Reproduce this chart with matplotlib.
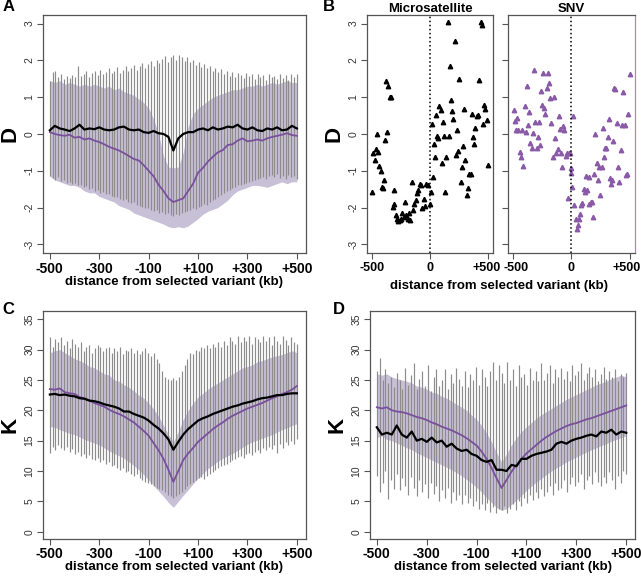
import numpy as np
import matplotlib
matplotlib.use("Agg")
import matplotlib.pyplot as plt
from matplotlib.transforms import ScaledTranslation

plt.rcParams['font.family'] = ['Liberation Sans', 'DejaVu Sans']

# ---- data -------------------------------------------------------------
kb = np.arange(-500, 501, 20)          # 51 positions for lines/bands
kb_bar = np.linspace(-500, 500, 89)    # positions of grey range bars

# panel A (D statistic)
a_black = [0.10, 0.22, 0.15, 0.12, 0.08, 0.15, 0.25, 0.12, 0.15, 0.13,
           0.18, 0.12, 0.10, 0.12, 0.18, 0.20, 0.12, 0.10, 0.12, 0.05,
           0.03, 0.08, 0.02, 0.00, -0.08, -0.45, -0.12, 0.00, 0.05, 0.05,
           0.12, 0.15, 0.10, 0.18, 0.12, 0.15, 0.20, 0.18, 0.25, 0.15,
           0.12, 0.18, 0.10, 0.08, 0.15, 0.12, 0.18, 0.10, 0.12, 0.22, 0.15]
a_purple = [0.05, 0.00, -0.03, -0.05, -0.02, -0.10, -0.08, -0.15, -0.12, -0.18,
            -0.22, -0.28, -0.35, -0.40, -0.45, -0.52, -0.60, -0.68, -0.72, -0.85,
            -1.00, -1.15, -1.38, -1.55, -1.75, -1.85, -1.80, -1.75, -1.55, -1.35,
            -1.05, -0.92, -0.75, -0.62, -0.50, -0.44, -0.30, -0.28, -0.18, -0.12,
            -0.20, -0.18, -0.15, -0.18, -0.12, -0.08, -0.05, -0.02, 0.02, -0.03, -0.05]
a_band_hi = [1.45, 1.40, 1.45, 1.35, 1.40, 1.35, 1.30, 1.35, 1.30, 1.35,
             1.30, 1.25, 1.30, 1.20, 1.25, 1.15, 1.10, 1.05, 0.95, 0.85,
             0.70, 0.40, 0.00, -0.60, -0.90, -0.92, -0.90, -0.50, 0.20, 0.55,
             0.70, 0.80, 0.90, 1.00, 1.05, 1.10, 1.15, 1.20, 1.20, 1.25,
             1.30, 1.30, 1.35, 1.30, 1.35, 1.40, 1.35, 1.40, 1.45, 1.40, 1.40]
a_band_lo = [-1.15, -1.25, -1.30, -1.35, -1.40, -1.40, -1.45, -1.55, -1.60, -1.60,
             -1.70, -1.75, -1.80, -1.85, -1.95, -2.00, -2.05, -2.15, -2.20, -2.25,
             -2.30, -2.35, -2.40, -2.45, -2.52, -2.55, -2.52, -2.55, -2.50, -2.40,
             -2.30, -2.18, -2.10, -2.05, -2.00, -1.90, -1.80, -1.65, -1.55, -1.50,
             -1.45, -1.40, -1.40, -1.42, -1.45, -1.40, -1.35, -1.30, -1.35, -1.30, -1.30]
a_bar_hi = [1.45, 1.68, 1.72, 1.55, 1.62, 1.50, 1.58, 1.52, 1.60, 1.55,
            1.85, 1.58, 1.62, 1.70, 1.55, 1.65, 1.72, 1.60, 1.75, 1.62,
            1.68, 1.78, 1.65, 1.72, 1.82, 1.66, 1.75, 1.85, 1.70, 1.80,
            1.88, 1.75, 1.85, 1.92, 1.80, 1.90, 1.98, 1.85, 2.02, 1.92,
            2.05, 2.12, 1.96, 2.10, 2.14, 2.02, 2.15, 2.08, 1.98, 2.10,
            1.95, 2.02, 1.88, 1.95, 1.82, 1.90, 1.78, 1.86, 1.72, 1.80,
            1.68, 1.76, 1.62, 1.72, 1.58, 1.68, 1.55, 1.65, 1.60, 1.52,
            1.66, 1.58, 1.62, 1.50, 1.64, 1.56, 1.60, 1.48, 1.62, 1.55,
            1.58, 1.50, 1.64, 1.52, 1.60, 1.46, 1.64, 1.55, 1.62]
a_bar_lo = [-1.15, -1.20, -1.25, -1.18, -1.28, -1.25, -1.32, -1.30, -1.36, -1.34,
            -1.40, -1.38, -1.45, -1.42, -1.50, -1.48, -1.55, -1.52, -1.60, -1.58,
            -1.64, -1.62, -1.68, -1.72, -1.70, -1.76, -1.80, -1.78, -1.85, -1.88,
            -1.86, -1.92, -1.95, -1.98, -2.02, -2.00, -2.06, -2.10, -2.08, -2.14,
            -2.12, -2.18, -2.15, -2.20, -2.22, -2.18, -2.20, -2.15, -2.12, -2.10,
            -2.08, -2.02, -2.05, -1.98, -1.95, -1.90, -1.92, -1.85, -1.80, -1.76,
            -1.70, -1.66, -1.60, -1.55, -1.52, -1.48, -1.45, -1.40, -1.38, -1.35,
            -1.32, -1.30, -1.28, -1.25, -1.22, -1.20, -1.18, -1.22, -1.15, -1.12,
            -1.18, -1.10, -1.20, -1.14, -1.22, -1.12, -1.18, -1.15, -1.22]

# panel B (scatter of D around microsatellite / SNV variants)
ms_kb = [-500, -486, -472, -463, -452, -443, -435, -423, -415, -406,
         -395, -386, -378, -364, -358, -344, -338, -321, -310, -304,
         -293, -281, -270, -259, -247, -236, -224, -213, -202, -190,
         -179, -168, -156, -145, -134, -122, -111, -99, -88, -77,
         -65, -54, -43, -31, -14, -3, 6, 14, 26, 34,
         43, 54, 63, 71, 82, 91, 102, 111, 122, 131,
         139, 153, 162, 170, 182, 190, 202, 213, 224, 233,
         244, 253, 264, 276, 284, 293, 304, 315, 324, 338,
         349, 358, 369, 378, 386, 401, 412, 423, 435, 443,
         455, 463, 474, 486, 500]
ms_d = [-1.57, -0.52, -0.72, -0.42, 0.01, -0.49, -0.87, -1.01, -1.44, -1.48,
        -1.26, -0.17, 1.44, 0.04, 1.30, 1.00, 1.00, -1.98, -1.91, -1.53,
        -2.20, -2.30, -2.36, -2.34, -2.30, -2.14, -2.25, -1.84, -2.20, -2.30,
        -2.14, -2.34, -1.30, -2.07, -1.89, -1.80, -1.60, -1.53, -1.36, -1.39,
        -2.00, -1.77, -1.96, -1.36, -1.39, -1.89, -1.57, 0.28, -1.18, -0.28,
        -0.62, 0.51, -0.06, -0.10, 0.75, 0.65, -0.80, 0.33, -0.06, -1.57,
        -0.62, 3.04, -0.06, 1.84, 0.92, 0.62, 0.42, 2.53, -0.56, 0.12,
        -0.47, 1.50, -1.30, -0.89, -0.32, 0.69, -0.72, -1.66, -1.48, -1.09,
        -1.09, 0.55, -0.08, -0.26, 0.15, 0.50, 0.51, 1.46, 3.04, 2.97,
        0.28, 0.79, 0.69, 0.39, -0.83]
snv_kb = [-491, -480, -474, -466, -455, -440, -432, -423, -412, -401,
          -392, -381, -372, -361, -352, -341, -330, -318, -310, -298,
          -287, -276, -267, -259, -250, -241, -233, -222, -210, -202,
          -190, -182, -170, -159, -151, -139, -128, -116, -108, -99,
          -88, -80, -68, -60, -48, -40, -31, -23, -14, -6,
          0, 9, 17, 26, 37, 48, 57, 65, 74, 85,
          94, 105, 116, 128, 139, 148, 156, 168, 179, 190,
          199, 207, 219, 230, 241, 250, 261, 270, 281, 290,
          301, 312, 321, 332, 341, 349, 358, 366, 378, 389,
          401, 412, 423, 435, 446, 457, 469, 477, 489, 500]
snv_d = [0.66, 0.35, 0.10, 0.44, 0.10, -0.49, -0.62, 0.10, -0.86, 0.76,
         0.05, 1.31, 0.25, 0.60, -0.24, -0.39, 0.03, 1.73, 0.33, -0.37,
         -0.08, 0.33, -0.31, 1.18, 0.78, 1.65, 0.71, 0.53, 1.26, 1.65,
         1.39, 0.98, 0.30, -0.62, 1.00, -0.10, -0.53, -0.41, 0.48, 0.14,
         -0.51, -0.90, 0.21, 0.10, -0.61, -0.51, -1.73, -0.53, -0.52, -1.06,
         -0.92, -1.44, 0.48, -1.94, -2.31, -2.57, -2.48, -2.31, -2.18, -1.94,
         -1.87, -1.50, -1.57, -1.14, -1.51, -1.17, -1.89, -1.86, -1.86, -2.25,
         -1.10, 0.01, -0.79, -1.24, -0.91, -1.67, -0.90, 0.17, -0.62, -0.37,
         -0.38, -0.08, 0.41, -1.19, -1.35, -1.24, -0.19, 1.24, 1.23, 0.29,
         -0.90, -1.30, -0.44, 0.25, 1.13, 0.25, -1.12, -1.08, 0.55, 1.64]

# panel C (K, first set)
c_black = [22.6, 22.7, 22.5, 22.6, 22.4, 22.3, 22.0, 21.9, 21.6, 21.5,
           21.3, 21.0, 20.8, 20.6, 20.3, 19.8, 19.8, 19.4, 19.1, 18.8,
           18.3, 17.6, 17.0, 16.2, 15.2, 13.5, 14.8, 16.0, 16.9, 17.6,
           18.3, 18.7, 19.0, 19.4, 19.7, 20.0, 20.3, 20.6, 20.8, 21.1,
           21.3, 21.5, 21.8, 22.0, 22.1, 22.3, 22.5, 22.5, 22.7, 22.8, 22.8]
c_purple = [23.5, 23.4, 23.6, 23.0, 22.8, 22.7, 22.2, 22.0, 21.6, 21.2,
            20.9, 20.6, 20.1, 19.7, 19.4, 19.0, 18.5, 18.0, 17.3, 16.6,
            15.8, 14.6, 13.4, 12.0, 10.2, 8.2, 10.0, 11.8, 12.9, 13.8,
            14.8, 15.5, 16.2, 16.9, 17.5, 18.0, 18.6, 19.1, 19.5, 19.9,
            20.3, 20.6, 20.9, 21.2, 21.6, 22.0, 22.3, 22.7, 23.0, 23.4, 24.0]
c_band_hi = [29.5, 29.8, 30.0, 29.5, 29.0, 28.5, 28.2, 27.8, 27.2, 27.0,
             26.5, 26.0, 25.8, 25.0, 24.8, 24.2, 23.8, 23.2, 22.5, 22.0,
             21.2, 20.2, 19.0, 17.5, 16.0, 14.8, 16.5, 18.5, 20.0, 21.2,
             22.2, 22.8, 23.5, 24.0, 24.5, 25.0, 25.5, 26.0, 26.5, 27.0,
             27.2, 27.5, 28.0, 28.2, 28.5, 28.8, 29.0, 29.2, 29.5, 29.8, 29.5]
c_band_lo = [17.3, 17.2, 16.8, 16.5, 16.2, 16.0, 15.6, 15.2, 14.9, 14.6,
             14.3, 13.8, 13.3, 12.9, 12.5, 12.1, 11.5, 10.9, 10.2, 9.4,
             8.5, 7.6, 6.7, 5.8, 4.8, 4.0, 5.0, 6.0, 6.9, 7.9,
             8.8, 9.6, 10.4, 11.0, 11.6, 12.1, 12.5, 12.9, 13.4, 13.9,
             14.4, 14.8, 15.1, 15.4, 15.7, 16.0, 16.4, 16.8, 17.1, 17.5, 17.8]
c_bar_hi = [32.0, 30.5, 31.8, 31.2, 32.0, 30.8, 31.5, 30.2, 31.8, 31.0,
            30.5, 31.2, 29.8, 30.5, 30.8, 29.5, 30.2, 30.8, 30.5, 29.8,
            30.2, 30.5, 29.5, 30.2, 29.8, 30.5, 29.2, 30.0, 29.8, 30.2,
            29.5, 30.0, 29.2, 29.8, 30.2, 29.5, 29.0, 29.4, 28.5, 27.8,
            26.5, 25.5, 25.2, 25.0, 25.3, 25.0, 25.5, 26.5, 27.5, 28.5,
            29.5, 29.2, 30.0, 29.8, 30.5, 30.2, 30.8, 30.2, 31.0, 30.5,
            31.2, 30.5, 31.5, 30.8, 32.0, 31.5, 31.0, 32.2, 31.2, 32.0,
            31.5, 32.2, 31.0, 32.0, 31.8, 31.2, 32.2, 31.5, 32.0, 30.8,
            32.2, 31.5, 31.0, 32.2, 31.6, 30.8, 32.0, 31.2, 31.0]
c_bar_lo = [13.0, 14.0, 13.5, 14.2, 13.8, 13.5, 14.0, 13.2, 13.6, 12.8,
            13.2, 12.5, 12.8, 12.2, 12.6, 12.0, 11.8, 12.2, 11.5, 11.8,
            11.2, 11.5, 10.8, 11.0, 10.5, 10.2, 10.5, 9.8, 10.0, 9.5,
            9.2, 9.5, 8.8, 8.5, 8.2, 8.0, 7.8, 7.5, 7.2, 7.0,
            6.8, 6.5, 6.0, 5.8, 5.6, 5.8, 6.2, 6.6, 7.0, 7.5,
            7.8, 8.2, 8.5, 8.8, 9.0, 8.6, 9.2, 9.5, 9.8, 10.2,
            10.5, 10.8, 11.0, 11.2, 11.5, 11.8, 12.0, 12.3, 12.5, 12.2,
            12.8, 13.0, 12.6, 13.2, 13.5, 13.0, 13.8, 13.4, 14.0, 13.6,
            14.2, 13.0, 14.5, 13.8, 14.8, 14.2, 15.0, 14.5, 15.2]

# panel D (K, second set)
d_black = [17.2, 16.0, 16.3, 16.0, 17.5, 16.0, 15.5, 16.5, 15.0, 15.3,
           14.8, 15.5, 14.7, 15.0, 14.0, 14.5, 13.7, 13.3, 13.5, 12.8,
           12.5, 11.8, 11.5, 11.8, 10.2, 10.2, 10.0, 11.0, 10.8, 12.0,
           12.0, 12.5, 12.8, 13.0, 13.2, 13.5, 14.5, 14.8, 14.5, 15.0,
           15.3, 15.5, 15.8, 16.0, 15.7, 16.5, 16.3, 16.8, 16.0, 16.5, 16.3]
d_purple = [20.5, 20.3, 20.5, 20.0, 19.8, 19.7, 19.5, 19.2, 18.9, 18.7,
            18.4, 18.0, 17.7, 17.3, 17.0, 16.7, 16.3, 15.9, 15.4, 14.8,
            14.2, 13.2, 12.0, 10.5, 8.8, 7.2, 8.5, 9.9, 11.0, 12.0,
            12.9, 13.6, 14.3, 15.0, 15.6, 16.1, 16.6, 17.0, 17.4, 17.7,
            17.9, 18.2, 18.5, 18.7, 19.0, 19.3, 19.6, 19.9, 20.2, 20.5, 20.8]
d_band_hi = [26.0, 25.8, 26.0, 25.5, 25.2, 25.0, 24.8, 24.5, 24.0, 23.8,
             23.5, 23.0, 22.8, 22.3, 22.0, 21.5, 21.0, 20.5, 20.0, 19.2,
             18.5, 17.5, 16.2, 14.8, 13.0, 11.5, 12.8, 14.3, 15.5, 16.5,
             17.3, 18.0, 18.7, 19.3, 19.8, 20.3, 20.8, 21.3, 21.8, 22.2,
             22.6, 23.0, 23.4, 23.8, 24.2, 24.5, 24.8, 25.2, 25.5, 25.8, 25.5]
d_band_lo = [15.5, 15.8, 15.2, 15.0, 14.6, 14.2, 13.8, 13.5, 13.0, 12.6,
             12.2, 11.8, 11.4, 11.0, 10.6, 10.2, 9.7, 9.2, 8.6, 8.0,
             7.3, 6.5, 5.6, 4.8, 4.0, 3.5, 3.8, 4.5, 5.2, 6.0,
             6.8, 7.5, 8.2, 8.8, 9.4, 10.0, 10.5, 11.0, 11.5, 11.9,
             12.3, 12.7, 13.1, 13.5, 13.8, 14.2, 14.5, 14.9, 15.2, 15.5, 15.8]
d_bar_hi = [26.5, 28.7, 25.0, 26.8, 24.5, 25.5, 23.8, 26.2, 25.0, 23.5,
            27.0, 24.2, 25.8, 27.8, 23.5, 25.2, 26.5, 24.0, 27.5, 23.2,
            25.5, 26.8, 24.0, 25.0, 26.8, 23.5, 26.0, 24.5, 27.0, 25.2,
            24.0, 26.5, 23.8, 26.0, 25.0, 27.2, 24.2, 26.8, 25.5, 24.0,
            26.5, 28.0, 25.0, 27.5, 26.2, 24.5, 28.0, 25.0, 26.8, 24.0,
            27.5, 25.5, 26.0, 24.2, 27.0, 25.0, 26.5, 24.8, 27.8, 25.0,
            26.2, 27.5, 24.5, 26.8, 25.5, 27.0, 25.2, 26.5, 24.8, 27.5,
            25.8, 26.5, 27.8, 25.0, 26.2, 27.2, 25.5, 26.8, 24.8, 26.0,
            27.2, 25.2, 26.5, 25.5, 26.8, 24.8, 26.0, 25.5, 26.2]
d_bar_lo = [9.2, 6.5, 8.0, 10.0, 5.3, 8.5, 7.0, 9.5, 6.8, 8.8,
            7.5, 6.0, 9.0, 7.2, 5.8, 8.5, 6.5, 7.8, 5.5, 8.0,
            6.2, 7.5, 5.0, 6.8, 5.5, 7.2, 4.8, 6.5, 5.2, 6.0,
            4.5, 6.0, 4.8, 5.5, 4.2, 5.0, 3.8, 4.5, 3.5, 4.8,
            3.2, 4.0, 3.0, 3.8, 3.5, 4.2, 3.0, 3.8, 4.5, 3.5,
            5.0, 4.2, 5.5, 4.8, 6.0, 5.2, 6.5, 5.5, 7.0, 5.8,
            6.5, 7.5, 6.0, 8.0, 6.8, 7.2, 8.5, 6.5, 7.8, 9.0,
            7.5, 8.2, 9.5, 7.0, 8.5, 9.2, 7.8, 9.8, 8.2, 7.5,
            9.0, 8.0, 9.8, 8.5, 7.0, 9.2, 8.0, 10.0, 9.5]

xticks = [-500, -300, -100, 100, 300, 500]
xticklabels = ['-500', '-300', '-100', '+100', '+300', '+500']

# ---- styling ----------------------------------------------------------
PURPLE = '#7a4f9c'
LAVENDER = '#c8c0d7'
BARGREY = '#8c8c8c'
SPINE = '#555555'
XLAB = 'distance from selected variant (kb)'


def style_axes(ax, ylim, yticks, xlim=(-528, 536)):
    ax.set_xlim(*xlim)
    ax.set_ylim(*ylim)
    for s in ax.spines.values():
        s.set_color(SPINE)
        s.set_linewidth(0.9)
    ax.tick_params(direction='out', length=4, width=0.8, color=SPINE, pad=2)
    ax.set_yticks(yticks)
    ax.set_yticklabels([str(t) for t in yticks], rotation=90, va='center',
                       fontsize=7.5, color='#333333')


def profile_panel(ax, black, purple, band_lo, band_hi, bar_lo, bar_hi, ylim, yticks, ylabel):
    ax.fill_between(kb, band_lo, band_hi, color=LAVENDER, lw=0)
    ax.vlines(kb_bar, bar_lo, bar_hi, color=BARGREY, lw=0.85)
    ax.plot(kb, purple, color=PURPLE, lw=1.3)
    ax.plot(kb, black, color='black', lw=1.6)
    style_axes(ax, ylim, yticks)
    ax.set_xticks(xticks)
    ax.set_xticklabels(xticklabels, fontsize=10, fontweight='bold')
    ax.set_xlabel(XLAB, fontsize=9.5, fontweight='bold', labelpad=0)
    ax.set_ylabel(ylabel, fontsize=16, fontweight='bold', labelpad=3)


def nudge(label, dx_px):
    label.set_transform(label.get_transform() + ScaledTranslation(dx_px / 100, 0, fig.dpi_scale_trans))


fig = plt.figure(figsize=(6.41, 5.82), dpi=100)

axA = fig.add_axes([0.067, 0.565, 0.410, 0.409])
profile_panel(axA, a_black, a_purple, a_band_lo, a_band_hi, a_bar_lo, a_bar_hi,
              (-3.24, 3.23), [-3, -2, -1, 0, 1, 2, 3], 'D')

axC = fig.add_axes([0.067, 0.074, 0.410, 0.392])
profile_panel(axC, c_black, c_purple, c_band_lo, c_band_hi, c_bar_lo, c_bar_hi,
              (-1.2, 36.4), [0, 5, 10, 15, 20, 25, 30, 35], 'K')

axD = fig.add_axes([0.577, 0.074, 0.414, 0.392])
profile_panel(axD, d_black, d_purple, d_band_lo, d_band_hi, d_bar_lo, d_bar_hi,
              (-1.2, 36.4), [0, 5, 10, 15, 20, 25, 30, 35], 'K')

# panel B
axB1 = fig.add_axes([0.5725, 0.565, 0.197, 0.409])
axB2 = fig.add_axes([0.793, 0.565, 0.197, 0.409])
axB1.plot(ms_kb, ms_d, ls='none', marker='^', ms=3.2, color='black', mec='black')
axB2.plot(snv_kb, snv_d, ls='none', marker='^', ms=3.2, color='#8a5aa8', mec='#8a5aa8')
for ax in (axB1, axB2):
    ax.axvline(0, color='black', ls=':', lw=1.1)
    style_axes(ax, (-3.24, 3.23), [-3, -2, -1, 0, 1, 2, 3], xlim=(-540, 543))
    ax.set_xticks([-500, 0, 500])
    ax.set_xticklabels(['-500', '0', '+500'], fontsize=9.0, fontweight='bold')
axB2.set_yticklabels([])
axB2.spines['right'].set_color('#a58cc0')
# keep neighbouring tick labels apart, and the last one inside the figure
nudge(axB1.get_xticklabels()[-1], -2)
nudge(axB2.get_xticklabels()[0], 3)
nudge(axB2.get_xticklabels()[-1], -3)
axB1.set_ylabel('D', fontsize=16, fontweight='bold', labelpad=3)
axB1.set_title('Microsatellite', fontsize=9.5, fontweight='bold', pad=2)
axB2.set_title('SNV', fontsize=9.5, fontweight='bold', pad=2)
fig.text(0.779, 0.508, XLAB, ha='center', va='center', fontsize=9.5, fontweight='bold')

# panel letters
for lab, x, y in [('A', 0.004, 0.988), ('B', 0.503, 0.988), ('C', 0.004, 0.468), ('D', 0.519, 0.468)]:
    fig.text(x, y, lab, ha='left', va='center', fontsize=12, fontweight='bold')

fig.savefig('out.png', dpi=100)
